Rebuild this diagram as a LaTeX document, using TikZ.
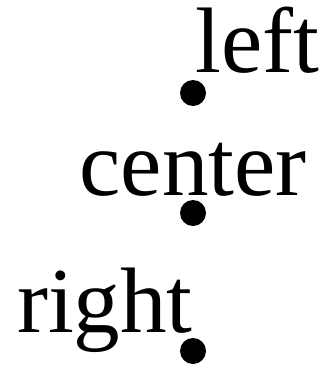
\documentclass[tikz,border=0pt]{standalone}
\usepackage{fontspec}
\setmainfont{Liberation Serif}
\usepackage{tikz}
\usetikzlibrary{calc, positioning}
\tikzset{
  refdot/.style={circle, fill=black, inner sep=0pt, minimum size=26pt},
  word/.style={inner sep=0pt, font=\fontsize{93}{93}\selectfont}
}

\begin{document}
\begin{tikzpicture}[x=1pt, y=-1pt]
  \useasboundingbox (0,0) rectangle (326,367);

  % ---------- reference points ----------
  \node[refdot] (pleft)   at (193,93)  {};
  \node[refdot] (pcenter) at (193,213) {};
  \node[refdot] (pright)  at (193,351) {};

  % ---------- words, on their baselines ----------
  \node[word, anchor=base west] (wleft)   at ($(pleft)+(2,-21)$)   {left};
  \node[word, anchor=base]      (wcenter) at ($(pcenter)+(0,-18)$) {center};
  \node[word, anchor=base east] (wright)  at ($(pright)+(0,-19)$)  {right};

\end{tikzpicture}
\end{document}
